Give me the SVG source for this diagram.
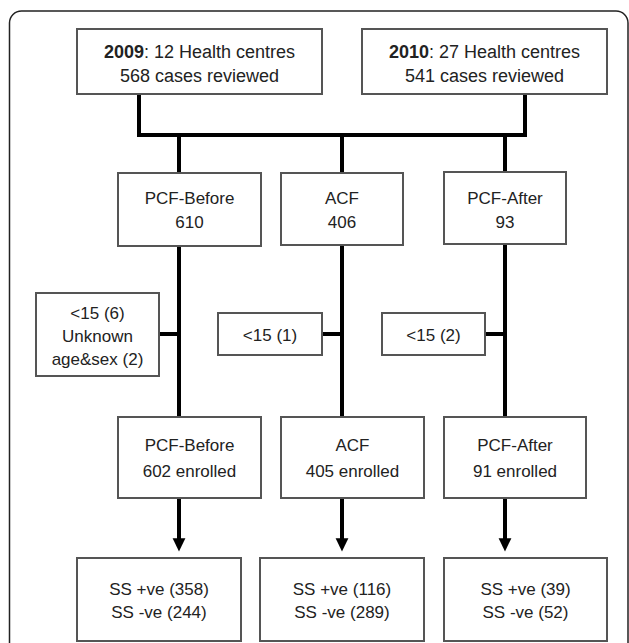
<svg xmlns="http://www.w3.org/2000/svg" width="629" height="643" viewBox="0 0 629 643">
<style>
.box{fill:#fff;stroke:#555;stroke-width:2}
.t{font-family:"Liberation Sans",Arial,sans-serif;font-size:17px;fill:#222;text-anchor:middle}
.tt{font-size:18px}
.c{stroke:#000;stroke-width:4;fill:none}
</style>
<defs>
<marker id="ah" markerWidth="4" markerHeight="4" refX="2.2" refY="2" orient="auto" markerUnits="strokeWidth" viewBox="0 0 4 4">
<path d="M0,0.4 L3.3,2 L0,3.6 Z" fill="#000"/>
</marker>
</defs>
<rect width="629" height="643" fill="#fff"/>
<path d="M9.5,650 V23 A12,12 0 0 1 21.5,11 H616 A12,12 0 0 1 628,23 V650" fill="none" stroke="#222" stroke-width="1.5"/>
<g id="connectors">
<path class="c" d="M139,94 V135 H525 V94"/>
<path class="c" d="M179,135 V173 M342,135 V173 M505,135 V173"/>
<path class="c" d="M179,246 V417 M342,245 V417 M505,244 V417"/>
<path class="c" d="M159,334 H179 M322,334 H342 M485,334 H505"/>
<path class="c" d="M179,498 V547" marker-end="url(#ah)"/>
<path class="c" d="M342,498 V547" marker-end="url(#ah)"/>
<path class="c" d="M505,498 V547" marker-end="url(#ah)"/>
</g>
<g id="n2009"><rect class="box" x="77" y="29" width="245" height="65"/>
<text class="t tt" x="199.5" y="58"><tspan font-weight="bold">2009</tspan>: 12 Health centres</text>
<text class="t tt" x="199.5" y="82">568 cases reviewed</text></g>
<g id="n2010"><rect class="box" x="362" y="29" width="245" height="65"/>
<text class="t tt" x="484.5" y="58"><tspan font-weight="bold">2010</tspan>:  27 Health centres</text>
<text class="t tt" x="484.5" y="82">541 cases reviewed</text></g>
<g id="pcfb1"><rect class="box" x="118" y="173" width="143" height="73"/>
<text class="t" x="189.5" y="204">PCF-Before</text><text class="t" x="189.5" y="228">610</text></g>
<g id="acf1"><rect class="box" x="281" y="173" width="122" height="72"/>
<text class="t" x="342" y="204">ACF</text><text class="t" x="342" y="228">406</text></g>
<g id="pcfa1"><rect class="box" x="444" y="172" width="122" height="72"/>
<text class="t" x="505" y="204">PCF-After</text><text class="t" x="505" y="228">93</text></g>
<g id="ex1"><rect class="box" x="36" y="293" width="123" height="83"/>
<text class="t" x="97.5" y="319">&lt;15 (6)</text><text class="t" x="97.5" y="342">Unknown</text><text class="t" x="97.5" y="365">age&amp;sex (2)</text></g>
<g id="ex2"><rect class="box" x="218" y="313" width="104" height="42"/>
<text class="t" x="270" y="341">&lt;15 (1)</text></g>
<g id="ex3"><rect class="box" x="382" y="313" width="103" height="42"/>
<text class="t" x="433.5" y="341">&lt;15 (2)</text></g>
<g id="pcfb2"><rect class="box" x="118" y="417" width="143" height="81"/>
<text class="t" x="189.5" y="451">PCF-Before</text><text class="t" x="189.5" y="477">602 enrolled</text></g>
<g id="acf2"><rect class="box" x="281" y="417" width="143" height="81"/>
<text class="t" x="352.5" y="451">ACF</text><text class="t" x="352.5" y="477">405 enrolled</text></g>
<g id="pcfa2"><rect class="box" x="444" y="417" width="142" height="81"/>
<text class="t" x="515" y="451">PCF-After</text><text class="t" x="515" y="477">91 enrolled</text></g>
<g id="ss1"><rect class="box" x="77" y="558" width="164" height="83"/>
<text class="t" x="159" y="595">SS +ve (358)</text><text class="t" x="159" y="618">SS -ve (244)</text></g>
<g id="ss2"><rect class="box" x="260" y="558" width="164" height="83"/>
<text class="t" x="342" y="595">SS +ve (116)</text><text class="t" x="342" y="618">SS -ve (289)</text></g>
<g id="ss3"><rect class="box" x="444" y="558" width="163" height="83"/>
<text class="t" x="525.5" y="595">SS +ve (39)</text><text class="t" x="525.5" y="618">SS -ve (52)</text></g>
</svg>
